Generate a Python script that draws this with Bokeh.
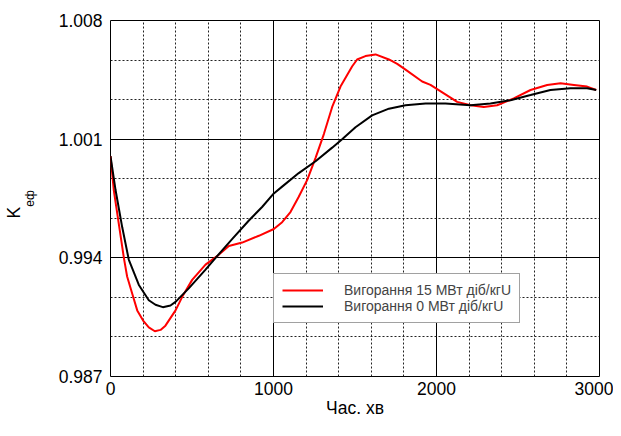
import math
from bokeh.plotting import figure
from bokeh.models import Range1d, FixedTicker, Legend, LegendItem, Title
from bokeh.embed import file_html
from bokeh.resources import INLINE

# ---- data ----
x_15 = [0, 20, 51, 82, 102, 133, 164, 200, 235, 272, 307, 337, 399, 440, 501, 583, 654,
        726, 808, 910, 1002, 1053, 1104, 1155, 1207, 1258, 1309, 1360, 1411, 1483, 1513,
        1564, 1595, 1626, 1708, 1759, 1810, 1912, 1963, 2045, 2127, 2209, 2290, 2372,
        2474, 2577, 2679, 2761, 2843, 2924, 2980]
k_15 = [1.0000, 0.9980, 0.9960, 0.9940, 0.9929, 0.9919, 0.9909, 0.9903, 0.98990, 0.98967,
        0.98975, 0.9900, 0.9909, 0.9917, 0.9927, 0.9936, 0.9941, 0.9947, 0.9949, 0.9953,
        0.9957, 0.9961, 0.9967, 0.9976, 0.9986, 0.9999, 1.0013, 1.0029, 1.0041, 1.0053,
        1.0057, 1.0059, 1.00595, 1.0060, 1.0057, 1.00544, 1.0051, 1.0044, 1.0042, 1.0037,
        1.0032, 1.0030, 1.0029, 1.0030, 1.0034, 1.0039, 1.0042, 1.0043, 1.0042, 1.0041,
        1.0039]

x_0 = [0, 31, 72, 112, 174, 235, 276, 321, 368, 399, 480, 583, 654, 746, 849, 930, 1002,
       1053, 1155, 1258, 1360, 1421, 1503, 1605, 1708, 1810, 1933, 2055, 2209, 2331, 2454,
       2577, 2699, 2822, 2924, 2980]
k_0 = [1.0000, 0.9980, 0.9958, 0.9939, 0.9924, 0.9915, 0.99123, 0.99109, 0.99119, 0.9914,
       0.9922, 0.9933, 0.9941, 0.9951, 0.9962, 0.9970, 0.9978, 0.9982, 0.9990, 0.9997,
       1.0005, 1.0010, 1.0017, 1.0024, 1.0028, 1.0030, 1.0031, 1.0031, 1.0030, 1.0031,
       1.0033, 1.0036, 1.0039, 1.0040, 1.0040, 1.0039]

x_ticks = [0, 1000, 2000, 3000]
y_ticks = [0.987, 0.994, 1.001, 1.008]
label_15 = "Вигорання 15 МВт діб/кгU"
label_0 = "Вигорання 0 МВт діб/кгU"
x_title = "Час. хв"
y_title_main = "K"
y_title_sub = "еф"

FONT = "Liberation Sans"

x_minor = [t + k * 200 for t in x_ticks[:-1] for k in range(1, 5)]
y_step = (y_ticks[1] - y_ticks[0]) / 3
y_minor = [round(t + k * y_step, 6) for t in y_ticks[:-1] for k in range(1, 3)]

p = figure(width=613, height=420, output_backend="svg", toolbar_location=None,
           x_range=Range1d(0, 3000), y_range=Range1d(0.987, 1.008),
           min_border_left=110, min_border_right=14, min_border_top=20, min_border_bottom=44)
p.background_fill_color = "white"
p.border_fill_color = "white"
p.outline_line_color = "black"
p.outline_line_width = 1

p.xaxis.ticker = FixedTicker(ticks=x_ticks, minor_ticks=x_minor)
p.yaxis.ticker = FixedTicker(ticks=y_ticks, minor_ticks=y_minor)

for ax in (p.xaxis[0], p.yaxis[0]):
    ax.axis_line_color = None
    ax.major_tick_line_color = None
    ax.minor_tick_line_color = None
    ax.major_tick_out = 0
    ax.major_tick_in = 0
    ax.minor_tick_out = 0
    ax.minor_tick_in = 0
    ax.major_label_text_font = FONT
    ax.major_label_text_font_size = "17.5px"
    ax.major_label_text_color = "black"
    ax.major_label_standoff = 8
p.xaxis.major_label_standoff = 5

p.xaxis.axis_label = x_title
p.xaxis.axis_label_text_font = FONT
p.xaxis.axis_label_text_font_size = "17.5px"
p.xaxis.axis_label_text_font_style = "normal"
p.xaxis.axis_label_text_color = "black"
p.xaxis.axis_label_standoff = 0

# subscript of the y title as the axis label (closest to the frame)
p.yaxis.axis_label = y_title_sub
p.yaxis.axis_label_text_font = FONT
p.yaxis.axis_label_text_font_size = "12px"
p.yaxis.axis_label_text_font_style = "normal"
p.yaxis.axis_label_text_color = "black"
p.yaxis.axis_label_standoff = 19

# main letter of the y title, further out
p.add_layout(Title(text=y_title_main, align="left", offset=158, vertical_align="bottom",
                   standoff=-9, text_font=FONT, text_font_size="17.5px",
                   text_font_style="normal", text_color="black"), "left")

for g in (p.xgrid[0], p.ygrid[0]):
    g.grid_line_color = "black"
    g.grid_line_width = 1
    g.minor_grid_line_color = "#222222"
    g.minor_grid_line_dash = "2 2"
    g.minor_grid_line_width = 1

r15 = p.line(x_15, k_15, line_color="#ff0000", line_width=2)
r0 = p.line(x_0, k_0, line_color="black", line_width=2)

legend = Legend(items=[LegendItem(label=label_15, renderers=[r15]),
                       LegendItem(label=label_0, renderers=[r0])],
                location=(163, 53), padding=8, spacing=0, margin=0,
                glyph_width=41, glyph_height=16, label_height=16, label_standoff=21,
                label_text_font=FONT, label_text_font_size="14px",
                border_line_color="#444444", border_line_width=1,
                background_fill_color="white", background_fill_alpha=1)
p.add_layout(legend, "center")

open("out.html", "w").write(file_html(p, INLINE))
